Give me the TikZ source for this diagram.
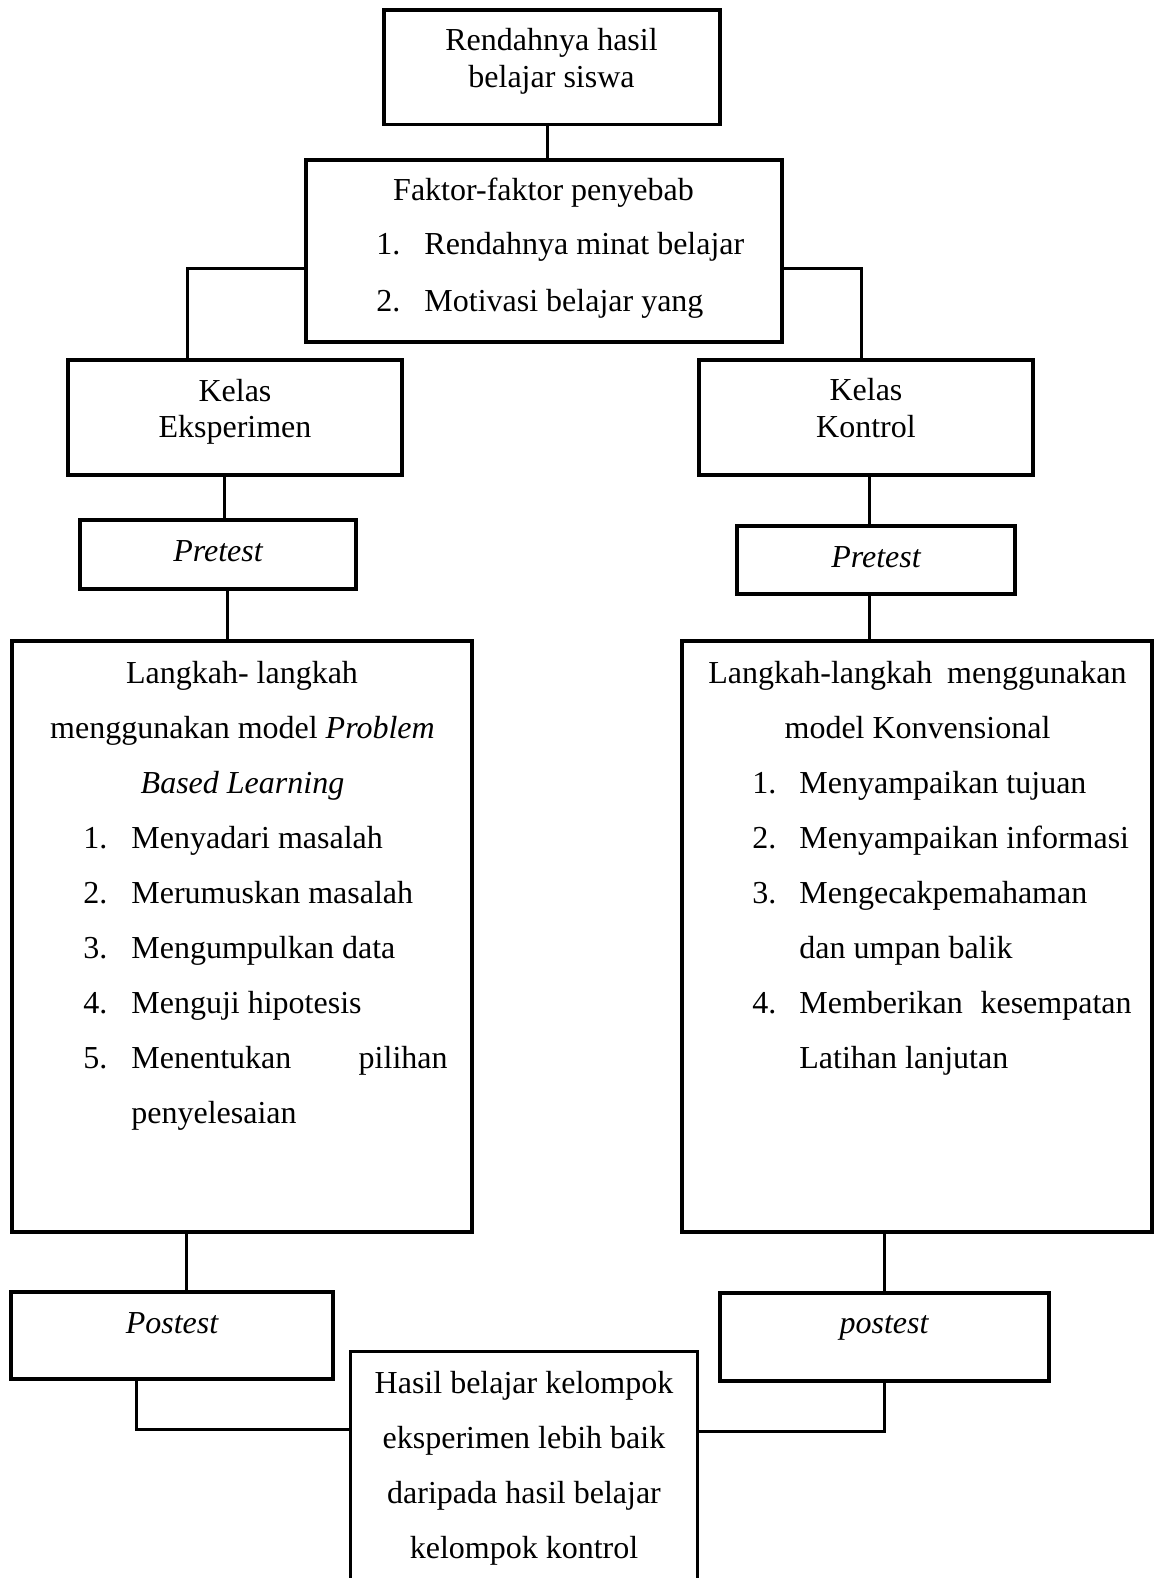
\documentclass[tikz,border=0pt]{standalone}
\usepackage{fontspec}
\setmainfont{Liberation Serif}
\usetikzlibrary{fit}
\begin{document}
\begin{tikzpicture}[x=0.5pt,y=-0.5pt,
  box/.style={draw,line width=1.8pt,inner sep=0pt,rectangle},
  frame/.style={inner sep=0pt,rectangle},
  edge/.style={line width=1.5pt},
  side/.style={line width=1.8pt},
  txt/.style={inner sep=0pt,anchor=base,font=\fontsize{16pt}{19pt}\selectfont},
  txtl/.style={inner sep=0pt,anchor=base west,font=\fontsize{16pt}{19pt}\selectfont},
  txtr/.style={inner sep=0pt,anchor=base east,font=\fontsize{16pt}{19pt}\selectfont}]
\path[use as bounding box] (0,0) rectangle (1154,1578);
% boxes
\node[box,fit={(384,10) (720,124.5)}] (b1) {};
\node[box,fit={(306,160) (782,342)}] (b2) {};
\node[box,fit={(68,360) (402,475)}] (ke) {};
\node[box,fit={(699,360) (1033,475)}] (kk) {};
\node[box,fit={(80,520) (356,589)}] (pl) {};
\node[box,fit={(737,526) (1015,594)}] (pr) {};
\node[box,fit={(12,641) (472,1232)}] (bl) {};
\node[box,fit={(682,641) (1152,1232)}] (br) {};
\node[box,fit={(11,1292) (333,1379)}] (ql) {};
\node[box,fit={(720,1293) (1049,1381)}] (qr) {};
\node[frame,fit={(351,1352) (697,1580)}] (res) {};
\draw[side] (res.south west) -- (res.north west) -- (res.north east) -- (res.south east);
% connectors
\draw[edge] ([xshift=-2.5pt]b1.south) -- ([xshift=-2.5pt]b1.south |- b2.north);
\draw[edge] ([yshift=-8.5pt]b2.west) -| ([xshift=-24pt]ke.north);
\draw[edge] ([yshift=-8.5pt]b2.east) -| ([xshift=-2.5pt]kk.north);
\draw[edge] ([xshift=-5.5pt]ke.south) -- ([xshift=-5.5pt]ke.south |- pl.north);
\draw[edge] ([xshift=1.5pt]kk.south) -- ([xshift=1.5pt]kk.south |- pr.north);
\draw[edge] ([xshift=4.5pt]pl.south) -- ([xshift=4.5pt]pl.south |- bl.north);
\draw[edge] ([xshift=-3.5pt]pr.south) -- ([xshift=-3.5pt]pr.south |- br.north);
\draw[edge] ([xshift=-28pt]bl.south) -- ([xshift=-28pt]bl.south |- ql.north);
\draw[edge] ([xshift=-16.5pt]br.south) -- ([xshift=-16.5pt]br.south |- qr.north);
\draw[edge] ([xshift=-18pt]ql.south) |- ([yshift=18.5pt]res.west);
\draw[edge] (qr.south) |- ([yshift=17.5pt]res.east);
% texts
\node[txt] (t1a) at (551.5,51) {Rendahnya hasil};
\node[txt] (t1b) at (551.5,88) {belajar siswa};
\node[txt] (t2a) at (543.5,201) {Faktor-faktor penyebab};
\node[txtl] (t2n1) at (376,255) {1.};
\node[txtl] (t2i1) at (424,255) {Rendahnya minat belajar};
\node[txtl] (t2n2) at (376,311) {2.};
\node[txtl] (t2i2) at (424,311) {Motivasi belajar yang};
\node[txt] (tkea) at (235,401) {Kelas};
\node[txt] (tkeb) at (235,437) {Eksperimen};
\node[txt] (tkka) at (866,400) {Kelas};
\node[txt] (tkkb) at (866,437) {Kontrol};
\node[txt] (tpl) at (218,561) {\itshape Pretest};
\node[txt] (tpr) at (876,567) {\itshape Pretest};
% left big box
\node[txt] (tbl1) at (242,683) {Langkah- langkah};
\node[txt] (tbl2) at (242.5,738) {menggunakan model \textit{Problem}};
\node[txt] (tbl3) at (242.5,793) {\textit{Based Learning}};
\node[txtl] (nl1) at (83,848) {1.};
\node[txtl] (il1) at (131,848) {Menyadari masalah};
\node[txtl] (nl2) at (83,903) {2.};
\node[txtl] (il2) at (131,903) {Merumuskan masalah};
\node[txtl] (nl3) at (83,958) {3.};
\node[txtl] (il3) at (131,958) {Mengumpulkan data};
\node[txtl] (nl4) at (83,1013) {4.};
\node[txtl] (il4) at (131,1013) {Menguji hipotesis};
\node[txtl] (nl5) at (83,1068) {5.};
\node[txtl] (il5) at (131,1068) {Menentukan};
\node[txtr] (il5b) at (448,1068) {pilihan};
\node[txtl] (il6) at (131,1123) {penyelesaian};
% right big box
\node[txtl] (tbr1) at (708,683) {Langkah-langkah};
\node[txtr] (tbr1b) at (1127,683) {menggunakan};
\node[txt] (tbr2) at (917.5,738) {model Konvensional};
\node[txtl] (nr1) at (752,793) {1.};
\node[txtl] (ir1) at (799,793) {Menyampaikan tujuan};
\node[txtl] (nr2) at (752,848) {2.};
\node[txtl] (ir2) at (799,848) {Menyampaikan informasi};
\node[txtl] (nr3) at (752,903) {3.};
\node[txtl] (ir3) at (799,903) {Mengecakpemahaman};
\node[txtl] (ir3b) at (799,958) {dan umpan balik};
\node[txtl] (nr4) at (752,1013) {4.};
\node[txtl] (ir4) at (799,1013) {Memberikan};
\node[txtr] (ir4b) at (1132,1013) {kesempatan};
\node[txtl] (ir4c) at (799,1068) {Latihan lanjutan};
% bottom
\node[txt] (tql) at (172,1333) {\itshape Postest};
\node[txt] (tqr) at (884,1333) {\itshape postest};
\node[txt] (tr1) at (524,1393) {Hasil belajar kelompok};
\node[txt] (tr2) at (524,1448) {eksperimen lebih baik};
\node[txt] (tr3) at (524,1503) {daripada hasil belajar};
\node[txt] (tr4) at (524,1558) {kelompok kontrol};
\end{tikzpicture}
\end{document}
